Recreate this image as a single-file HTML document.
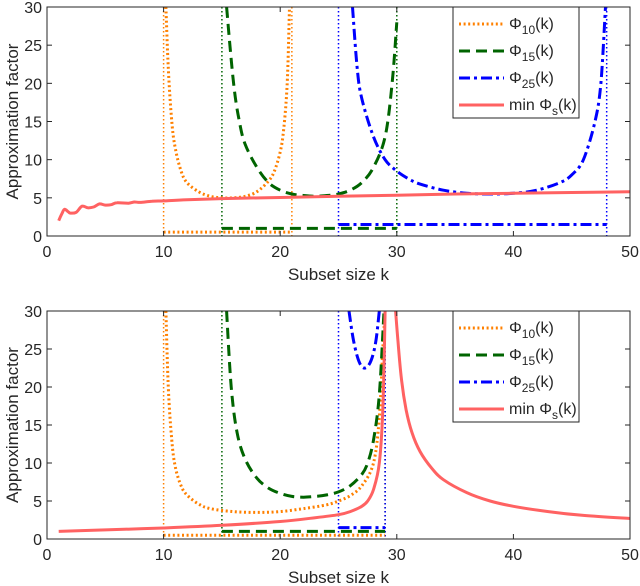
<!DOCTYPE html>
<html><head><meta charset="utf-8"><style>
body{margin:0;background:#fff}
svg{display:block;font-family:"Liberation Sans",sans-serif}
</style></head><body>
<svg id="c" width="640" height="586" xmlns="http://www.w3.org/2000/svg"></svg>
<script>
// ---- data ----
const xTicks=[0,10,20,30,40,50];
const yTicks=[0,5,10,15,20,25,30];
// top panel
const topPhi10K=[10.2,10.4,10.7,11,11.5,12,13,14,15,16,17,18,19,19.5,20,20.3,20.6,20.8];
const topPhi10V=[30,22,15,11.5,8.5,7,5.8,5.2,5.0,5.0,5.2,5.8,7.2,8.5,11,14,20,30];
const topPhi15K=[15.4,16,16.5,17,18,19,20,21,22,23,24,25,26,27,28,29,29.6,30];
const topPhi15V=[30,20,15,12,9,7,6,5.5,5.3,5.2,5.3,5.5,6,7,9,13,20,28];
const topPhi25K=[26.2,26.6,27,28,29,30,31,32,34,36,38,40,42,44,45,46,47,47.5,47.9];
const topPhi25V=[30,22,18,13,10,8.5,7.5,6.8,6,5.6,5.5,5.6,6,7,8,10,15,20,30];
const topMinK=[1,1.3,1.5,1.8,2,2.5,3,3.5,4,4.5,5,5.5,6,7,7.5,8,9,10,12,15,20,25,30,35,40,45,50];
const topMinV=[2,3,3.5,3.2,3,3.1,3.9,3.7,3.8,4.2,4.05,4.1,4.35,4.3,4.45,4.4,4.55,4.6,4.75,4.9,5.05,5.2,5.35,5.5,5.6,5.7,5.8];
const topBoundK=[[10,21],[15,30],[25,48]];
const topBoundV=[0.5,1.0,1.5];
// bottom panel
const botPhi10K=[10.2,10.4,10.7,11,11.5,12,13,14,16,18,20,22,24,25,26,27,28,28.5,28.8,29];
const botPhi10V=[30,20,13,9.5,7,5.8,4.6,4.0,3.6,3.5,3.6,4.0,4.5,5,5.7,7,10,16,25,30];
const botPhi15K=[15.4,15.8,16.3,17,18,19,20,21,22,23,24,25,26,27,27.5,28,28.5,28.9];
const botPhi15V=[30,20,14,10.5,8,6.7,6,5.6,5.5,5.6,5.8,6.2,7,8.5,10,13,19,30];
const botPhi25K=[25.9,26.3,26.8,27.3,27.8,28.2,28.5];
const botPhi25V=[30,26,23.2,22.5,23.5,26,30];
const botMinK1=[1,5,10,15,20,23,25,26,27,27.5,28,28.5,28.8,29];
const botMinV1=[1,1.2,1.45,1.8,2.3,2.8,3.2,3.6,4.3,5,6.5,10,17,30];
const botMinK2=[29.9,30.1,30.4,30.8,31.3,32,33,34,36,38,40,43,46,50];
const botMinV2=[30,26,21,17,14,11.5,9.3,7.8,6.1,5.0,4.3,3.6,3.1,2.7];
const botBoundK=[[10,29],[15,29],[25,29]];
const botBoundV=[0.5,1.0,1.5];

const NS="http://www.w3.org/2000/svg";
const svg=document.getElementById('c');
const COL={o:'#ff8000',g:'#006400',b:'#0000ff',r:'#ff6262'};
const STY={o:{w:3,d:'2,2.6'},g:{w:3,d:'11,6'},b:{w:3,d:'11,4,3,4'},r:{w:3,d:''}};
function mk(tag,attrs,parent){const e=document.createElementNS(NS,tag);for(const k in attrs)e.setAttribute(k,attrs[k]);(parent||svg).appendChild(e);return e;}
function smooth(P){
  let d='M'+P[0][0].toFixed(1)+','+P[0][1].toFixed(1);
  for(let i=0;i<P.length-1;i++){
    const p0=P[i-1]||P[i],p1=P[i],p2=P[i+1],p3=P[i+2]||P[i+1];
    const c1=[p1[0]+(p2[0]-p0[0])/6,p1[1]+(p2[1]-p0[1])/6];
    const c2=[p2[0]-(p3[0]-p1[0])/6,p2[1]-(p3[1]-p1[1])/6];
    d+=' C'+c1[0].toFixed(1)+','+c1[1].toFixed(1)+' '+c2[0].toFixed(1)+','+c2[1].toFixed(1)+' '+p2[0].toFixed(1)+','+p2[1].toFixed(1);
  }
  return d;
}

function panel(top,bottom,name,series,bounds,vlines){
  const L=47,R=630;
  const xs=k=>L+k/50*(R-L);
  const ys=v=>bottom-v/30*(bottom-top);
  const g=mk('g',{});
  
  
  mk('rect',{x:L,y:top,width:R-L,height:bottom-top,fill:'#fff',stroke:'none'},g);
  const clip=mk('clipPath',{id:'cl'+name},g);
  mk('rect',{x:L,y:top,width:R-L,height:bottom-top},clip);
  const plot=mk('g',{'clip-path':'url(#cl'+name+')'},g);
  vlines.forEach(([k,c])=>{
    const l=mk('line',{x1:xs(k),x2:xs(k),y1:top,y2:bottom,stroke:COL[c],'stroke-width':1.5,'stroke-dasharray':'1.5,2.5'},plot);
    
    
  });
  bounds.forEach(([ks,v,c])=>{
    const l=mk('line',{x1:xs(ks[0]),x2:xs(ks[1]),y1:ys(v),y2:ys(v),stroke:COL[c],'stroke-width':STY[c].w,'stroke-dasharray':STY[c].d},plot);
    
    
  });
  series.forEach(([K,V,c,nm])=>{
    const P=K.map((k,i)=>[xs(k),ys(V[i])]);
    const p=mk('path',{d:smooth(P),fill:'none',stroke:COL[c],'stroke-width':STY[c].w,'stroke-dasharray':STY[c].d,'stroke-linejoin':'round'},plot);
    
    
  });
  mk('rect',{x:L,y:top,width:R-L,height:bottom-top,fill:'none',stroke:'#262626','stroke-width':1},g);
  xTicks.forEach(t=>{
    const x=xs(t);
    mk('line',{x1:x,x2:x,y1:bottom,y2:bottom-5,stroke:'#262626'},g);
    mk('line',{x1:x,x2:x,y1:top,y2:top+5,stroke:'#262626'},g);
    const tx=mk('text',{x:x,y:bottom+21,'text-anchor':'middle','font-size':16,fill:'#262626'},g);
    tx.textContent=t;
    
    
  });
  yTicks.forEach(t=>{
    const y=ys(t);
    mk('line',{x1:L,x2:L+5,y1:y,y2:y,stroke:'#262626'},g);
    mk('line',{x1:R,x2:R-5,y1:y,y2:y,stroke:'#262626'},g);
    const tx=mk('text',{x:L-5,y:y+6,'text-anchor':'end','font-size':16,fill:'#262626'},g);
    tx.textContent=t;
    
    
  });
  const xl=mk('text',{x:(L+R)/2,y:bottom+44,'text-anchor':'middle','font-size':17,fill:'#262626'},g);
  xl.textContent='Subset size k';
  
  
  const cy=(top+bottom)/2;
  const yl=mk('text',{x:18,y:cy,'text-anchor':'middle','font-size':17,fill:'#262626',transform:'rotate(-90 18 '+cy+')'},g);
  yl.textContent='Approximation factor';
  
  
  const lg=mk('g',{},g);
  
  
  mk('rect',{x:453,y:top,width:126,height:111,fill:'#fff',stroke:'#262626'},lg);
  const ent=[['o','10'],['g','15'],['b','25'],['r','s']];
  ent.forEach(([c,sub],i)=>{
    const y=top+17+i*27;
    const e=mk('g',{},lg);
    
    
    mk('line',{x1:459,x2:504,y1:y,y2:y,stroke:COL[c],'stroke-width':STY[c].w,'stroke-dasharray':STY[c].d},e);
    const t=mk('text',{x:509,y:y+5,'font-size':16,fill:'#262626'},e);
    t.innerHTML=(c==='r'?'min ':'')+'Φ<tspan dy="5" font-size="12">'+sub+'</tspan><tspan dy="-5">(k)</tspan>';
  });
}
panel(7,236,'top-panel',
  [[topPhi10K,topPhi10V,'o','phi10-line'],[topPhi15K,topPhi15V,'g','phi15-line'],[topPhi25K,topPhi25V,'b','phi25-line'],[topMinK,topMinV,'r','min-phi-line']],
  [[topBoundK[0],topBoundV[0],'o'],[topBoundK[1],topBoundV[1],'g'],[topBoundK[2],topBoundV[2],'b']],
  [[10,'o'],[21,'o'],[15,'g'],[30,'g'],[25,'b'],[48,'b']]);
panel(311,539,'bottom-panel',
  [[botPhi10K,botPhi10V,'o','phi10-line'],[botPhi15K,botPhi15V,'g','phi15-line'],[botPhi25K,botPhi25V,'b','phi25-line'],[botMinK1,botMinV1,'r','min-phi-line'],[botMinK2,botMinV2,'r','min-phi-line-right']],
  [[botBoundK[0],botBoundV[0],'o'],[botBoundK[1],botBoundV[1],'g'],[botBoundK[2],botBoundV[2],'b']],
  [[10,'o'],[15,'g'],[25,'b'],[29,'o'],[29,'g'],[29,'b']]);
</script>
</body></html>
